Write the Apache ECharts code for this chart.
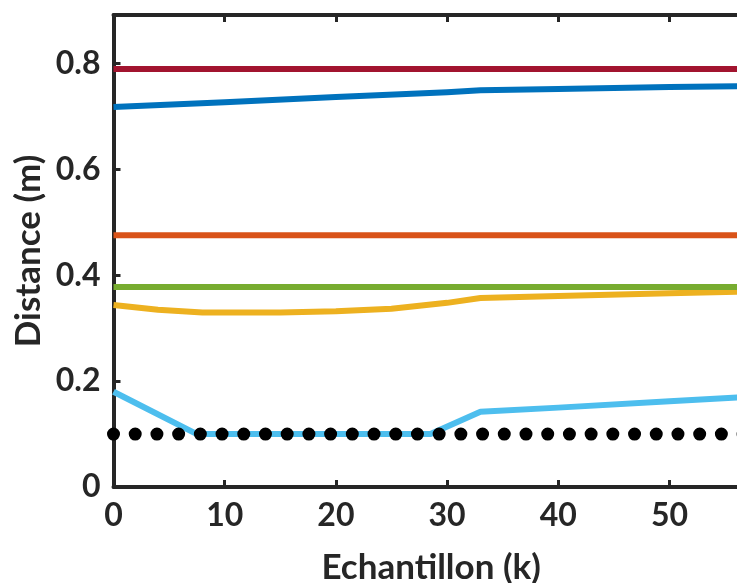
<!DOCTYPE html>
<html><head><meta charset="utf-8">
<script src="https://cdn.jsdelivr.net/npm/echarts@6/dist/echarts.min.js"></script>
<style>html,body{margin:0;padding:0;background:#fff}#c{width:737px;height:583px}</style>
</head><body><div id="c"></div>
<script>
// Data
const xTicks = [0, 10, 20, 30, 40, 50, 60];
const yTicks = [0, 0.2, 0.4, 0.6, 0.8];
const redK = [0, 60], redV = [0.790, 0.790];
const blueK = [0, 10, 20, 30, 33, 40, 50, 60], blueV = [0.718, 0.727, 0.737, 0.746, 0.750, 0.752, 0.756, 0.758];
const orangeK = [0, 60], orangeV = [0.476, 0.476];
const greenK = [0, 60], greenV = [0.378, 0.378];
const yellowK = [0, 4, 8, 15, 20, 25, 30, 33, 40, 50, 60], yellowV = [0.344, 0.335, 0.330, 0.330, 0.332, 0.337, 0.348, 0.357, 0.361, 0.366, 0.371];
const skyK = [0, 7.5, 28.5, 33, 40, 50, 60], skyV = [0.180, 0.100, 0.100, 0.142, 0.150, 0.162, 0.174];
const refK = [0, 60], refV = [0.1, 0.1];

const pair = (k, v) => k.map((x, i) => [x, v[i]]);
const FONT = 'Lato';
const AX = '#262626';
const chart = echarts.init(document.getElementById('c'));
function ln(k, v, color, w, z) {
  return {type: 'line', data: pair(k, v), showSymbol: false, symbol: 'none', z: z,
    lineStyle: {color: color, width: w, cap: 'butt', join: 'round'}, animation: false};
}
chart.setOption({
  animation: false,
  backgroundColor: '#fff',
  grid: {left: 113.5, top: 15, bottom: 96, right: -43.7, containLabel: false, outerBoundsMode: 'none'},
  xAxis: [{
    type: 'value', min: 0, max: 60, interval: 10, position: 'bottom',
    name: 'Echantillon (k)', nameLocation: 'middle', nameGap: 63, nameMoveOverlap: false,
    nameTextStyle: {fontFamily: FONT, fontWeight: 'bold', fontSize: 35, color: AX, padding: [0, 32, 0, 0]},
    axisLine: {lineStyle: {color: AX, width: 4}},
    axisTick: {inside: true, length: 7, lineStyle: {color: AX, width: 3}},
    axisLabel: {fontFamily: FONT, fontWeight: 'bold', fontSize: 32, color: AX, margin: 13},
    splitLine: {show: false}
  }, {
    type: 'value', min: 0, max: 60, interval: 10, position: 'top',
    axisLine: {lineStyle: {color: AX, width: 4}},
    axisTick: {inside: true, length: 7, lineStyle: {color: AX, width: 3}},
    axisLabel: {show: false}, splitLine: {show: false}
  }],
  yAxis: {
    type: 'value', min: 0, max: 0.892, interval: 0.2,
    name: 'Distance (m)', nameLocation: 'middle', nameGap: 67, nameMoveOverlap: false,
    nameTextStyle: {fontFamily: FONT, fontWeight: 'bold', fontSize: 35, color: AX},
    axisLine: {show: true, lineStyle: {color: AX, width: 4}},
    axisTick: {show: true, inside: true, length: 7, lineStyle: {color: AX, width: 3}},
    axisLabel: {fontFamily: FONT, fontWeight: 'bold', fontSize: 32, color: AX, margin: 13,
      showMaxLabel: false,
      formatter: v => (yTicks.some(t => Math.abs(t - v) < 1e-6) ? String(+v.toFixed(1)) : '')},
    splitLine: {show: false}
  },
  series: [
    ln(redK, redV, '#A2142F', 6, 2),
    ln(blueK, blueV, '#0072BD', 6, 2),
    ln(orangeK, orangeV, '#D95319', 6, 2),
    ln(yellowK, yellowV, '#EDB120', 6, 2),
    ln(greenK, greenV, '#77AC30', 6, 3),
    ln(skyK, skyV, '#4DBEEE', 6, 3),
    {type: 'line', data: pair(refK, refV), showSymbol: false, symbol: 'none', z: 4,
      lineStyle: {color: '#000', width: 13, cap: 'round', type: [0.01, 21.7]}}
  ]
});
</script></body></html>
